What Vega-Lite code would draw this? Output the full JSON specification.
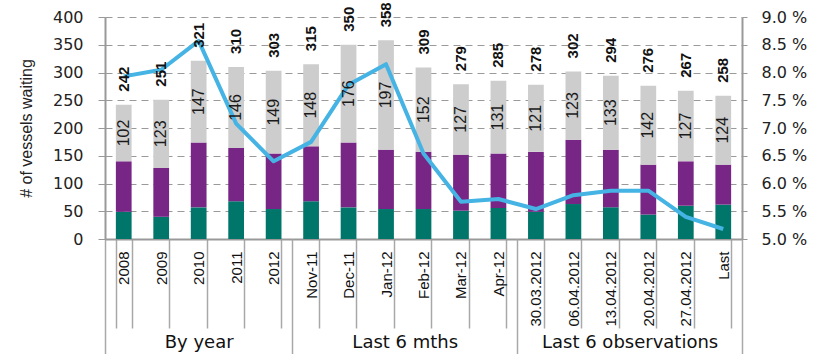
{
  "$schema": "https://vega.github.io/schema/vega-lite/v6.json",
  "autosize": {"type": "none"},
  "padding": {"left": 105, "top": 17, "right": 79, "bottom": 115},
  "width": 637,
  "height": 222,
  "background": "white",
  "config": {
    "view": {"stroke": null},
    "axis": {"labelColor": "#222222", "titleColor": "#222222"}
  },
  "datasets": {
    "ports": [
      {"cat": "2008", "seg1": 49, "seg2": 91, "seg3": 102, "total": 242, "rate": 7.93},
      {"cat": "2009", "seg1": 40, "seg2": 88, "seg3": 123, "total": 251, "rate": 8.05},
      {"cat": "2010", "seg1": 57, "seg2": 117, "seg3": 147, "total": 321, "rate": 8.57},
      {"cat": "2011", "seg1": 68, "seg2": 96, "seg3": 146, "total": 310, "rate": 7.08},
      {"cat": "2012", "seg1": 54, "seg2": 100, "seg3": 149, "total": 303, "rate": 6.4},
      {"cat": "Nov-11", "seg1": 68, "seg2": 99, "seg3": 148, "total": 315, "rate": 6.75},
      {"cat": "Dec-11", "seg1": 57, "seg2": 117, "seg3": 176, "total": 350, "rate": 7.78},
      {"cat": "Jan-12", "seg1": 54, "seg2": 107, "seg3": 197, "total": 358, "rate": 8.15},
      {"cat": "Feb-12", "seg1": 54, "seg2": 103, "seg3": 152, "total": 309, "rate": 6.54},
      {"cat": "Mar-12", "seg1": 51, "seg2": 101, "seg3": 127, "total": 279, "rate": 5.67},
      {"cat": "Apr-12", "seg1": 56, "seg2": 98, "seg3": 131, "total": 285, "rate": 5.72},
      {"cat": "30.03.2012", "seg1": 49, "seg2": 108, "seg3": 121, "total": 278, "rate": 5.54},
      {"cat": "06.04.2012", "seg1": 63, "seg2": 116, "seg3": 123, "total": 302, "rate": 5.79},
      {"cat": "13.04.2012", "seg1": 57, "seg2": 104, "seg3": 133, "total": 294, "rate": 5.87},
      {"cat": "20.04.2012", "seg1": 44, "seg2": 90, "seg3": 142, "total": 276, "rate": 5.87},
      {"cat": "27.04.2012", "seg1": 60, "seg2": 80, "seg3": 127, "total": 267, "rate": 5.4},
      {"cat": "Last", "seg1": 62, "seg2": 72, "seg3": 124, "total": 258, "rate": 5.18}
    ],
    "periods": [
      {"period": "By year", "start": 0, "end": 5},
      {"period": "Last 6 mths", "start": 5, "end": 11},
      {"period": "Last 6 observations", "start": 11, "end": 17}
    ]
  },
  "layer": [
    {
      "data": {"name": "ports"},
      "encoding": {
        "x": {
          "field": "cat",
          "type": "ordinal",
          "sort": ["2008", "2009", "2010", "2011", "2012", "Nov-11", "Dec-11", "Jan-12", "Feb-12", "Mar-12", "Apr-12", "30.03.2012", "06.04.2012", "13.04.2012", "20.04.2012", "27.04.2012", "Last"],
          "scale": {"paddingInner": 0.58, "paddingOuter": 0.29},
          "axis": {
            "title": null,
            "orient": "bottom",
            "tickBand": "extent",
            "tickSize": 89,
            "tickColor": "#a8a8a8",
            "tickWidth": 1.5,
            "domainColor": "#999999",
            "domainWidth": 2,
            "labelAngle": 270,
            "labelAlign": "right",
            "labelBaseline": "middle",
            "labelPadding": -77,
            "labelFont": "Liberation Sans",
            "labelFontSize": 15,
            "labelColor": "#111111"
          }
        }
      },
      "layer": [
        {
          "transform": [{"fold": ["seg1", "seg2", "seg3"], "as": ["segment", "vessels"]}],
          "mark": {"type": "bar"},
          "encoding": {
            "y": {
              "field": "vessels",
              "type": "quantitative",
              "stack": "zero",
              "scale": {"domain": [0, 400], "nice": false},
              "axis": {
                "title": "# of vessels waiting",
                "titleFont": "Liberation Sans",
                "titleFontSize": 16,
                "titleFontWeight": "normal",
                "titleX": -79,
                "titleY": 111,
                "titleAngle": 270,
                "titleAlign": "center",
                "titleBaseline": "middle",
                "values": [0, 50, 100, 150, 200, 250, 300, 350, 400],
                "labelFont": "DejaVu Sans",
                "labelFontSize": 16,
                "labelPadding": 15,
                "tickSize": 7,
                "tickColor": "#999999",
                "domainColor": "#999999",
                "domainWidth": 2,
                "grid": true,
                "gridColor": "#9a9a9a",
                "gridDash": [7, 5],
                "gridWidth": 1
              }
            },
            "color": {
              "field": "segment",
              "type": "nominal",
              "scale": {"domain": ["seg1", "seg2", "seg3"], "range": ["#00756a", "#772686", "#cdcdcd"]},
              "legend": null
            },
            "order": {"field": "segment", "sort": "ascending"}
          }
        },
        {
          "mark": {"type": "line", "color": "#45b3e3", "strokeWidth": 4, "strokeJoin": "round"},
          "encoding": {
            "y": {
              "field": "rate",
              "type": "quantitative",
              "scale": {"domain": [5, 9], "nice": false, "zero": false},
              "axis": {
                "orient": "right",
                "title": null,
                "values": [5, 5.5, 6, 6.5, 7, 7.5, 8, 8.5, 9],
                "labelExpr": "format(datum.value, '.1f') + ' %'",
                "labelFont": "DejaVu Sans",
                "labelFontSize": 16,
                "labelPadding": 14,
                "tickSize": 5,
                "tickColor": "#999999",
                "domainColor": "#999999",
                "domainWidth": 2,
                "grid": false
              }
            }
          }
        },
        {
          "transform": [{"calculate": "datum.total - datum.seg3 / 2", "as": "seg3Mid"}],
          "mark": {"type": "text", "angle": 270, "align": "center", "baseline": "middle", "font": "Liberation Sans", "fontSize": 16, "color": "#1a1a1a"},
          "encoding": {
            "y": {"field": "seg3Mid", "type": "quantitative", "scale": {"domain": [0, 400], "nice": false}, "axis": null},
            "text": {"field": "seg3", "type": "quantitative"}
          }
        },
        {
          "mark": {"type": "text", "angle": 270, "align": "left", "baseline": "middle", "dx": 13, "font": "Liberation Sans", "fontSize": 15, "fontWeight": "bold", "color": "#111111"},
          "encoding": {
            "y": {"field": "total", "type": "quantitative", "scale": {"domain": [0, 400], "nice": false}, "axis": null},
            "text": {"field": "total", "type": "quantitative"}
          }
        }
      ],
      "resolve": {"scale": {"y": "independent"}}
    },
    {
      "data": {"name": "periods"},
      "mark": {"type": "rule", "opacity": 0},
      "encoding": {
        "x": {
          "field": "start",
          "type": "quantitative",
          "scale": {"domain": [0, 17], "nice": false, "zero": false},
          "axis": {
            "orient": "bottom",
            "title": null,
            "values": [0, 5, 11, 17],
            "labels": false,
            "domain": false,
            "grid": false,
            "ticks": true,
            "tickSize": 116,
            "tickColor": "#a8a8a8",
            "tickWidth": 1.5
          }
        }
      }
    },
    {
      "data": {"name": "periods"},
      "mark": {"type": "rule", "opacity": 0},
      "encoding": {
        "x": {
          "field": "end",
          "type": "quantitative",
          "scale": {"domain": [0, 17], "nice": false, "zero": false},
          "axis": {
            "orient": "bottom",
            "title": null,
            "values": [2.5, 8, 14],
            "labelExpr": "datum.value == 2.5 ? 'By year' : datum.value == 8 ? 'Last 6 mths' : 'Last 6 observations'",
            "labelFont": "DejaVu Sans",
            "labelFontSize": 18,
            "labelColor": "#111111",
            "labelBaseline": "alphabetic",
            "labelPadding": 108,
            "labelFlush": false,
            "labelOverlap": false,
            "domain": false,
            "grid": false,
            "ticks": false
          }
        }
      }
    }
  ],
  "resolve": {"scale": {"x": "independent", "y": "independent"}}
}
